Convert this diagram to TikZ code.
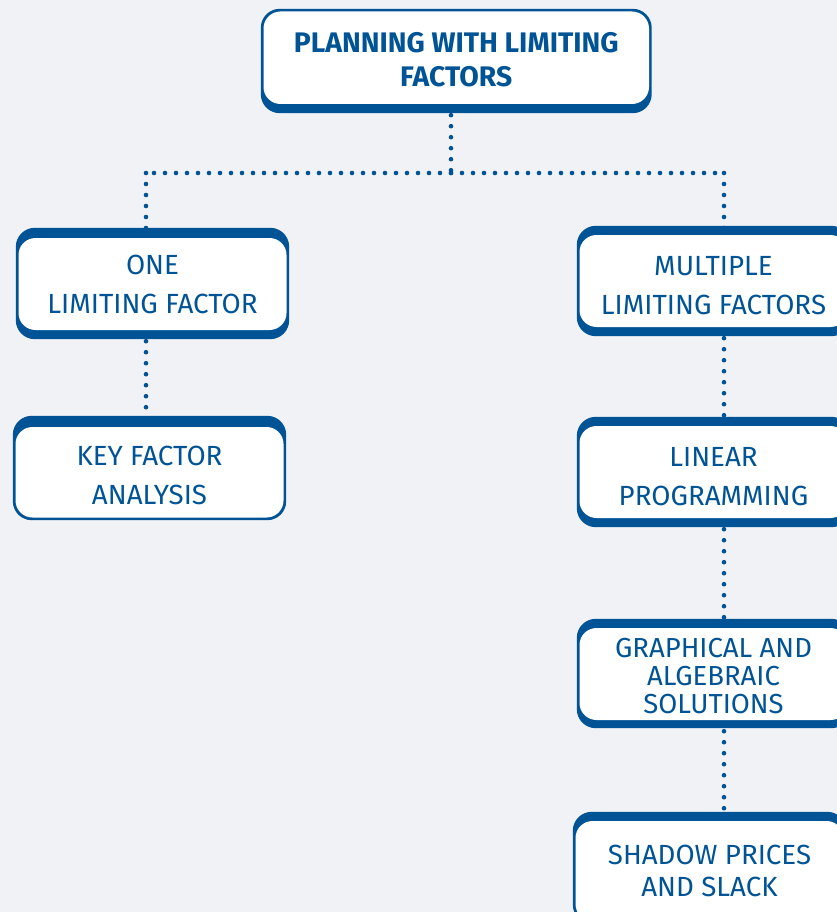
\documentclass[tikz,border=0pt]{standalone}
\usepackage{fontspec}
\setmainfont{Fira Sans}
\usetikzlibrary{backgrounds,calc}
\definecolor{navy}{RGB}{0,84,150}
\definecolor{paper}{RGB}{240,242,245}

% frame behind a card: #1 card name, #2 extra top thickness, #3 extra bottom thickness
\newcommand{\cardrim}[3]{%
  \fill[rim] ($(#1.north west)+(-2.5,-#2)$) rectangle ($(#1.south east)+(2.5,#3)$);}

\begin{document}
\begin{tikzpicture}[x=1pt,y=-1pt,
  card/.style={fill=white, rounded corners=17pt, inner sep=0pt,
    minimum width=268pt, minimum height=92pt},
  cardtext/.style={inner sep=0pt, align=center, text=navy,
    font=\fontsize{27.7}{39}\selectfont},
  titletext/.style={cardtext, font=\fontsize{28.3}{34}\selectfont\bfseries},
  rim/.style={fill=navy, rounded corners=19pt},
  dotline/.style={draw=navy, line width=4.6pt, line cap=round,
    dash pattern=on 0pt off 11pt}]

\useasboundingbox (0,0) rectangle (837,912);
\clip (0,0) rectangle (837,912);

% cards
\node[card, minimum width=385.5pt, minimum height=92.5pt] (top) at (456.25,57.75) {};
\node[card] (one) at (152.5,284) {};
\node[card, minimum height=90.5pt] (key) at (149.5,472.25) {};
\node[card] (multi) at (713.5,281) {};
\node[card] (linear) at (713.5,472) {};
\node[card] (graph) at (713.5,674) {};
\node[card, minimum height=100pt] (shadow) at (709.5,871) {};

% card texts
\node[titletext] (top-t) at ($(top.center)+(0,1.5)$) {PLANNING WITH LIMITING\\FACTORS};
\node[cardtext] (one-t) at ($(one.center)+(0,0)$) {ONE\\LIMITING FACTOR};
\node[cardtext] (key-t) at ($(key.center)+(0,3.5)$) {KEY FACTOR\\ANALYSIS};
\node[cardtext] (multi-t) at ($(multi.center)+(0,5)$) {MULTIPLE\\LIMITING FACTORS};
\node[cardtext] (linear-t) at ($(linear.center)+(0,4.5)$) {LINEAR\\PROGRAMMING};
\node[cardtext, font=\fontsize{27.5}{28}\selectfont] (graph-t) at ($(graph.center)+(0,2)$)
  {GRAPHICAL AND\\ALGEBRAIC\\SOLUTIONS};
\node[cardtext, font=\fontsize{27.7}{32}\selectfont] (shadow-t) at ($(shadow.center)+(0,0)$)
  {SHADOW PRICES\\AND SLACK};

% branch points of the tree
\coordinate (hub) at (451,173);
\coordinate (lcorner) at (146,173);
\coordinate (rcorner) at (724,173);

\begin{scope}[on background layer]
  \fill[paper] (0,0) rectangle (837,912);
  % dotted connectors
  \draw[dotline] (hub |- top.south) -- (hub);
  \draw[dotline] (hub) -- (lcorner);
  \draw[dotline] (hub) -- (rcorner);
  \draw[dotline] (lcorner) -- (lcorner |- one.north);
  \draw[dotline] (rcorner) -- (rcorner |- multi.north);
  \draw[dotline] (lcorner |- one.south) -- (lcorner |- key.north);
  \draw[dotline] (rcorner |- multi.south) -- (rcorner |- linear.north);
  \draw[dotline] (rcorner |- linear.south) -- (rcorner |- graph.north);
  \draw[dotline] (rcorner |- graph.south) -- (rcorner |- shadow.north);
  % blue frames
  \cardrim{top}{2.5}{9}
  \cardrim{one}{10}{9}
  \cardrim{key}{11}{2.5}
  \cardrim{multi}{9}{9}
  \cardrim{linear}{9}{9}
  \cardrim{graph}{9}{8}
  \cardrim{shadow}{9}{2.5}
\end{scope}
\end{tikzpicture}
\end{document}
